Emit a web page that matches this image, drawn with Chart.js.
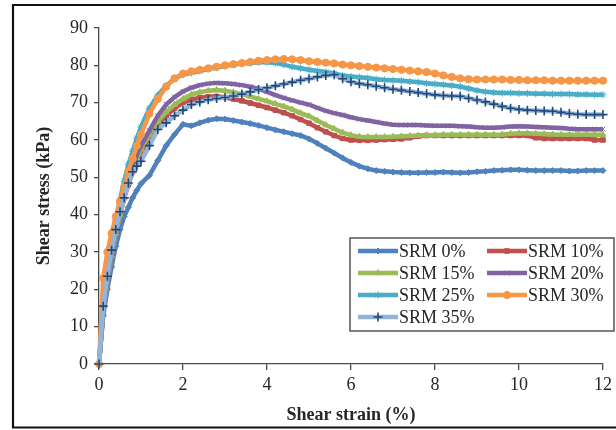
<!DOCTYPE html>
<html>
<head>
<meta charset="utf-8">
<script src="https://cdn.jsdelivr.net/npm/chart.js@4.4.1/dist/chart.umd.min.js"></script>
<style>
  html, body { margin: 0; padding: 0; background: #fff; }
  canvas { display: block; }
</style>
</head>
<body>
<canvas id="chart" width="616" height="430"></canvas>
<script>
// shear strain (%) sample points, finer near the origin where the curves climb fast
const strain = [0, 0.1, 0.2, 0.3, 0.4, 0.5, 0.6, 0.7, 0.8, 0.9, 1.0,
  1.2, 1.4, 1.6, 1.8, 2.0, 2.2, 2.4, 2.6, 2.8, 3.0,
  3.2, 3.4, 3.6, 3.8, 4.0, 4.2, 4.4, 4.6, 4.8, 5.0,
  5.2, 5.4, 5.6, 5.8, 6.0, 6.2, 6.4, 6.6, 6.8, 7.0,
  7.2, 7.4, 7.6, 7.8, 8.0, 8.2, 8.4, 8.6, 8.8, 9.0,
  9.2, 9.4, 9.6, 9.8, 10.0, 10.2, 10.4, 10.6, 10.8, 11.0,
  11.2, 11.4, 11.6, 11.8, 12.0];

// shear stress (kPa) for each SRM content
const srm0 = [0, 13, 20, 26, 31.5, 36, 39.5, 42, 44.5, 46.5, 48.3,
  50.5, 54.5, 58.5, 61.5, 64.2, 63.8, 64.6, 65.3, 65.7, 65.6,
  65.2, 64.8, 64.4, 63.9, 63.3, 62.7, 62.2, 61.7, 61.2, 60.3,
  59.1, 57.8, 56.5, 55.2, 54.0, 53.0, 52.3, 51.8, 51.6, 51.4,
  51.3, 51.2, 51.2, 51.3, 51.3, 51.4, 51.3, 51.2, 51.3, 51.5,
  51.6, 51.8, 51.9, 52.0, 52.0, 51.9, 51.8, 51.8, 51.8, 51.8,
  51.7, 51.7, 51.8, 51.8, 51.8];
const srm10 = [0, 14, 22, 29, 35, 40, 44.5, 48, 51.5, 54, 56.5,
  60.5, 64, 66.5, 68.5, 70, 70.8, 71.3, 71.6, 71.7, 71.4,
  71, 70.5, 69.9, 69.3, 68.7, 68, 67.3, 66.5, 65.5, 64.5,
  63.3, 62.2, 61.2, 60.4, 60.0, 59.9, 59.9, 60.0, 60.1, 60.2,
  60.3, 60.6, 61.0, 61.2, 61.2, 61.2, 61.2, 61.2, 61.2, 61.2,
  61.2, 61.2, 61.2, 61.2, 61.2, 61.2, 60.6, 60.4, 60.4, 60.4,
  60.4, 60.4, 60.4, 60.0, 60.0];
const srm15 = [0, 14, 22, 29, 35, 40, 44.5, 48.5, 52, 55, 57.5,
  61.5, 65, 67.5, 69.5, 71, 72.2, 72.8, 73.2, 73.4, 73.2,
  72.8, 72.3, 71.7, 71.0, 70.4, 69.7, 69.0, 68.2, 67.2, 66.4,
  65.2, 64.0, 63.0, 62.0, 61.3, 60.9, 60.8, 60.8, 60.8, 60.9,
  61.0, 61.1, 61.2, 61.3, 61.3, 61.4, 61.4, 61.4, 61.4, 61.4,
  61.4, 61.4, 61.5, 61.7, 61.8, 61.8, 61.7, 61.6, 61.5, 61.4,
  61.4, 61.4, 61.4, 61.4, 61.4];
const srm20 = [0, 14, 22.5, 30, 36, 41, 45.5, 49.5, 53, 56, 58.5,
  62.5, 66.5, 69.5, 71.5, 73, 74, 74.7, 75.1, 75.3, 75.2,
  75, 74.7, 74.3, 73.7, 72.9, 72.0, 71.3, 70.6, 70.0, 69.5,
  68.6, 67.8, 67.2, 66.7, 66.1, 65.6, 65.2, 64.8, 64.4, 64.1,
  64.0, 64.0, 64.0, 63.9, 63.8, 63.8, 63.8, 63.7, 63.6, 63.4,
  63.3, 63.3, 63.4, 63.6, 63.7, 63.6, 63.5, 63.4, 63.3, 63.2,
  63.0, 62.9, 62.9, 62.9, 62.9];
const srm25 = [0, 15, 24, 32, 38.5, 44, 49, 53.5, 57, 60.5, 63.5,
  68.5, 72, 74.5, 76.5, 77.5, 78, 78.5, 79, 79.4, 79.8,
  80.2, 80.5, 80.6, 80.8, 80.8, 80.6, 80.2, 79.6, 79.2, 78.8,
  78.5, 78.2, 77.8, 77.3, 77.0, 76.8, 76.6, 76.3, 76.1, 76.0,
  75.9, 75.7, 75.5, 75.2, 75.0, 74.8, 74.6, 74.3, 73.8, 73.3,
  72.9, 72.7, 72.6, 72.6, 72.5, 72.5, 72.4, 72.4, 72.3, 72.3,
  72.3, 72.2, 72.2, 72.1, 72.1];
const srm30 = [0, 23, 30, 35, 39.5, 43.5, 47.5, 51.5, 55, 58.5, 61.5,
  67, 71, 74.3, 76.5, 77.8, 78.4, 78.8, 79.2, 79.6, 80.0,
  80.3, 80.6, 80.9, 81.2, 81.4, 81.6, 81.7, 81.6, 81.4, 81.1,
  80.9, 80.7, 80.5, 80.2, 80.0, 79.8, 79.6, 79.4, 79.2, 79.0,
  78.8, 78.6, 78.4, 78.2, 77.8, 77.3, 76.9, 76.5, 76.3, 76.2,
  76.2, 76.2, 76.2, 76.1, 76.1, 76.0, 76.0, 76.0, 75.9, 75.9,
  75.9, 75.9, 75.9, 75.9, 75.9];
const srm35 = [0, 15.5, 23.5, 30.5, 36, 40.8, 44.5, 48.5, 51.5, 53, 54.3,
  58.5, 62.8, 64.6, 66.5, 68, 69.5, 70.2, 70.8, 71.1, 71.4,
  71.8, 72.3, 72.9, 73.5, 74.0, 74.5, 75.0, 75.5, 76.0, 76.4,
  76.9, 77.3, 77.5, 76.4, 75.6, 75.1, 74.8, 74.4, 74.0, 73.6,
  73.3, 73.0, 72.7, 72.4, 72.1, 71.9, 71.8, 71.7, 71.2, 70.7,
  70.2, 69.6, 69.0, 68.5, 68.2, 68.0, 67.9, 67.8, 67.7, 67.4,
  67.1, 66.9, 66.8, 66.8, 66.8];

const seriesNames = ['SRM 0%', 'SRM 10%', 'SRM 15%', 'SRM 20%', 'SRM 25%', 'SRM 30%', 'SRM 35%'];
const seriesValues = [srm0, srm10, srm15, srm20, srm25, srm30, srm35];
const lineColors = ['#4F81BD', '#C0504D', '#9BBB59', '#8064A2', '#4BACC6', '#F79646', '#95B3D7'];
const markerColors = ['#4F81BD', '#C0504D', '#9BBB59', '#8064A2', '#4BACC6', '#F79646', '#1F497D'];
const markerStyles = ['rectRot', 'rect', 'triangle', 'crossRot', 'star', 'circle', 'cross'];
const markerSizes = [3, 3.2, 3.4, 3.4, 3.6, 3.6, 4.5];

const xTicks = [0, 2, 4, 6, 8, 10, 12];
const yTicks = [0, 10, 20, 30, 40, 50, 60, 70, 80, 90];

const serif = "'Liberation Serif', 'Times New Roman', serif";
const textColor = '#262626';
const axisColor = '#4a4a4a';

const datasets = seriesNames.map((name, i) => ({
  label: name,
  data: strain.map((s, k) => ({ x: s, y: seriesValues[i][k] })),
  borderColor: lineColors[i],
  borderWidth: 4.5,
  backgroundColor: markerColors[i],
  pointBackgroundColor: markerColors[i],
  pointBorderColor: markerColors[i],
  pointStyle: markerStyles[i],
  pointRadius: markerSizes[i],
  pointBorderWidth: i === 6 ? 1.6 : 1,
  tension: 0,
  clip: false,
  // later series sit on top of earlier ones
  order: seriesNames.length - 1 - i
}));

// page frame plus a boxed two-column legend inside the plot
const framePlugin = {
  id: 'frame',
  beforeDraw(chart) {
    const ctx = chart.ctx;
    ctx.save();
    ctx.fillStyle = '#fff';
    ctx.fillRect(0, 0, chart.width, chart.height);
    ctx.restore();
  },
  afterDraw(chart) {
    const ctx = chart.ctx;
    ctx.save();
    ctx.strokeStyle = '#111';
    ctx.lineWidth = 2.2;
    ctx.beginPath();
    ctx.moveTo(chart.width + 2, 5);
    ctx.lineTo(13, 5);
    ctx.lineTo(13, 427.5);
    ctx.lineTo(chart.width + 2, 427.5);
    ctx.stroke();

    // legend box
    const box = { left: 350, top: 238, width: 264, height: 93 };
    ctx.fillStyle = '#fff';
    ctx.fillRect(box.left, box.top, box.width, box.height);
    ctx.strokeStyle = '#555';
    ctx.lineWidth = 1.5;
    ctx.strokeRect(box.left, box.top, box.width, box.height);

    ctx.font = '18px ' + serif;
    ctx.textBaseline = 'middle';
    ctx.textAlign = 'left';
    chart.data.datasets.forEach((ds, i) => {
      const col = i % 2;
      const row = Math.floor(i / 2);
      const x0 = col === 0 ? 358 : 487;
      const y = 251 + row * 22;
      ctx.strokeStyle = ds.borderColor;
      ctx.lineWidth = 4.5;
      ctx.beginPath();
      ctx.moveTo(x0, y);
      ctx.lineTo(x0 + 40, y);
      ctx.stroke();
      ctx.fillStyle = ds.pointBackgroundColor;
      ctx.strokeStyle = ds.pointBorderColor;
      ctx.lineWidth = ds.pointBorderWidth;
      Chart.helpers.drawPoint(ctx, {
        pointStyle: ds.pointStyle,
        radius: ds.pointRadius,
        rotation: 0,
        borderWidth: ds.pointBorderWidth
      }, x0 + 20, y);
      ctx.fillStyle = textColor;
      ctx.fillText(ds.label, x0 + 41, y + 1);
    });
    ctx.restore();
  }
};

new Chart(document.getElementById('chart'), {
  type: 'line',
  data: { datasets },
  plugins: [framePlugin],
  options: {
    responsive: false,
    animation: false,
    events: [],
    layout: { padding: { left: 13, right: 13, top: 28, bottom: 0 } },
    plugins: {
      legend: { display: false },
      tooltip: { enabled: false }
    },
    scales: {
      x: {
        type: 'linear',
        min: 0,
        max: 12,
        afterFit: (scale) => { scale.height = 66; },
        afterBuildTicks: (scale) => { scale.ticks = xTicks.map(v => ({ value: v })); },
        border: { color: axisColor, width: 1.3 },
        grid: { drawOnChartArea: false, drawTicks: true, tickLength: 6, color: axisColor, lineWidth: 1.3 },
        ticks: { color: textColor, font: { family: serif, size: 18 }, padding: 4, maxRotation: 0 },
        title: {
          display: true,
          text: 'Shear strain (%)',
          color: textColor,
          font: { family: serif, size: 18, weight: 'bold' },
          padding: { top: 0, bottom: 4 }
        }
      },
      y: {
        type: 'linear',
        min: 0,
        max: 90,
        afterFit: (scale) => { scale.width = 86; },
        afterBuildTicks: (scale) => { scale.ticks = yTicks.map(v => ({ value: v })); },
        border: { color: axisColor, width: 1.3 },
        grid: { drawOnChartArea: false, drawTicks: true, tickLength: 5, color: axisColor, lineWidth: 1.3 },
        ticks: { color: textColor, font: { family: serif, size: 18 }, padding: 6 },
        title: {
          display: true,
          text: 'Shear stress (kPa)',
          color: textColor,
          font: { family: serif, size: 18, weight: 'bold' },
          padding: { top: 21, bottom: 0 }
        }
      }
    }
  }
});
</script>
</body>
</html>
